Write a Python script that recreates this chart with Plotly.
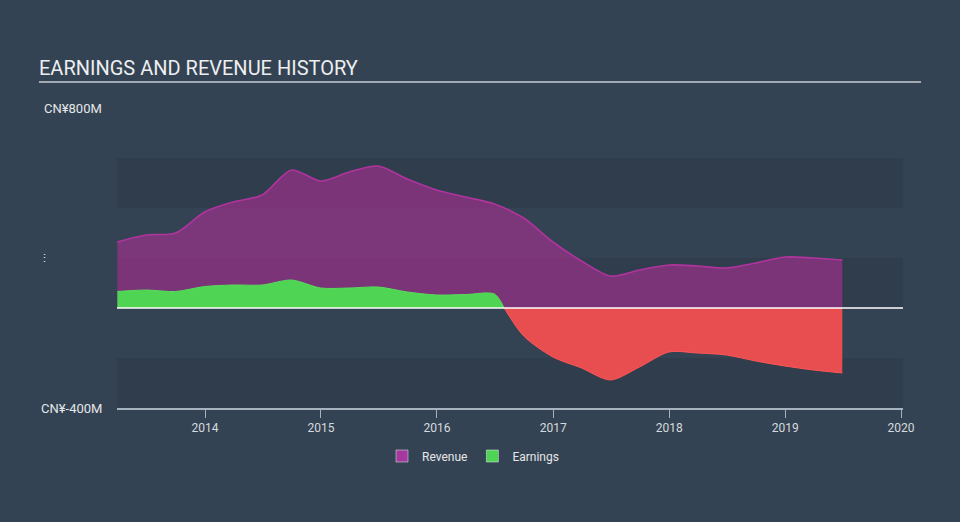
import plotly.graph_objects as go
import pandas as pd

# ---- data (CN¥ millions, quarterly trailing values) ----
dates = pd.date_range("2013-03-31", "2019-06-30", freq="QE")
revenue = [264, 292, 300, 384,
           424, 452, 552, 508,
           544, 568, 516, 472,
           444, 416, 360, 264,
           188, 128, 152, 172,
           168, 160, 180, 204,
           200, 192]
earnings = [66, 72, 66, 86,
            92, 92, 112, 80,
            80, 84, 64, 52,
            54, 56, -112, -196,
            -240, -288, -236, -176,
            -180, -188, -212, -232,
            -248, -260]
y_ticks = [800, -400]
y_tick_text = ["CN¥800M", "CN¥-400M"]
x_ticks = ["2014", "2015", "2016", "2017", "2018", "2019", "2020"]

# split earnings into positive / negative parts at the zero crossing
pos_x, pos_y, neg_x, neg_y = [], [], [], []
ts = [d.value for d in dates]
for i, (t, v) in enumerate(zip(ts, earnings)):
    if i > 0 and (earnings[i - 1] >= 0) != (v >= 0):
        t0, v0 = ts[i - 1], earnings[i - 1]
        tc = t0 + (t - t0) * v0 / (v0 - v)
        pos_x.append(pd.Timestamp(int(tc))); pos_y.append(0)
        neg_x.append(pd.Timestamp(int(tc))); neg_y.append(0)
    if v >= 0:
        pos_x.append(pd.Timestamp(t)); pos_y.append(v)
    else:
        neg_x.append(pd.Timestamp(t)); neg_y.append(v)

BG = "#344353"
BAND = "#2f3d4c"
FONT = "Roboto"
REV_SWATCH = "#a3399d"
EARN_GREEN = "#4fd453"

fig = go.Figure()
fig.add_trace(go.Scatter(
    x=dates, y=revenue, name="Revenue", mode="lines", showlegend=False,
    line=dict(color="#b0349e", width=1.6, shape="spline", smoothing=0.8),
    fill="tozeroy", fillcolor="rgba(178,46,150,0.58)"))
fig.add_trace(go.Scatter(
    x=pos_x, y=pos_y, name="Earnings", mode="lines", showlegend=False,
    line=dict(color="#57dc5b", width=1, shape="spline", smoothing=0.8),
    fill="tozeroy", fillcolor=EARN_GREEN))
fig.add_trace(go.Scatter(
    x=neg_x, y=neg_y, name="Earnings (neg)", mode="lines", showlegend=False,
    line=dict(color="#ff5555", width=1, shape="spline", smoothing=0.8),
    fill="tozeroy", fillcolor="#e84e50"))
# legend swatches
fig.add_trace(go.Bar(x=[None], y=[None], name="Revenue", marker_color=REV_SWATCH))
fig.add_trace(go.Bar(x=[None], y=[None], name="Earnings", marker_color=EARN_GREEN))

shapes = []
for y0, y1 in [(400, 600), (0, 200), (-400, -200)]:
    shapes.append(dict(type="rect", xref="paper", yref="y", x0=0, x1=1, y0=y0, y1=y1,
                       fillcolor=BAND, line=dict(width=0), layer="below"))
# zero line
shapes.append(dict(type="line", xref="paper", yref="y", x0=0, x1=1, y0=0, y1=0,
                   line=dict(color="#ffffff", width=1.5), layer="above"))
# title underline
shapes.append(dict(type="line", xref="paper", yref="paper",
                   x0=(39 - 117) / 786, x1=(921 - 117) / 786,
                   y0=(408 - 82) / 300, y1=(408 - 82) / 300,
                   line=dict(color="#a3a9b0", width=2)))

annotations = []
for v, t in zip(y_ticks, y_tick_text):
    annotations.append(dict(text=t, x=(104 - 117) / 786, xref="paper", y=v, yref="y",
                            xanchor="right", yanchor="middle", showarrow=False,
                            font=dict(family=FONT, size=13, color="#e4e6e8")))
annotations.append(dict(text="⋮", x=(52 - 117) / 786, xref="paper", y=200, yref="y",
                        xanchor="right", yanchor="middle", showarrow=False,
                        font=dict(family=FONT, size=11, color="#e4e6e8")))

fig.update_layout(
    width=960, height=522,
    margin=dict(l=117, r=57, t=108, b=114, autoexpand=False),
    paper_bgcolor=BG, plot_bgcolor=BG,
    font=dict(family=FONT, color="#d6dade"),
    title=dict(text="EARNINGS AND REVENUE HISTORY", x=39 / 960, xanchor="left",
               xref="container", y=1 - 68 / 522, yanchor="middle", yref="container",
               font=dict(family=FONT, size=20, color="#eceef0")),
    xaxis=dict(type="date", range=["2013-03-30", "2020-01-07"],
               tickvals=[f"{y}-01-01" for y in x_ticks], ticktext=x_ticks,
               showgrid=False, zeroline=False,
               showline=True, linecolor="#a6b2be", linewidth=1.5,
               ticks="outside", ticklen=8, tickcolor="#a6b2be", tickwidth=1,
               tickfont=dict(family=FONT, size=12, color="#d6dade")),
    yaxis=dict(range=[-400, 800], showgrid=False, zeroline=False,
               showticklabels=False, ticks=""),
    shapes=shapes, annotations=annotations,
    showlegend=True,
    legend=dict(orientation="h", x=473 / 960, xanchor="center", xref="container",
                y=1 - 456 / 522, yanchor="middle", yref="container",
                bgcolor="rgba(0,0,0,0)", font=dict(family=FONT, size=12, color="#e4e6e8"),
                itemwidth=30, tracegroupgap=0),
)

fig.write_html("out.html")
